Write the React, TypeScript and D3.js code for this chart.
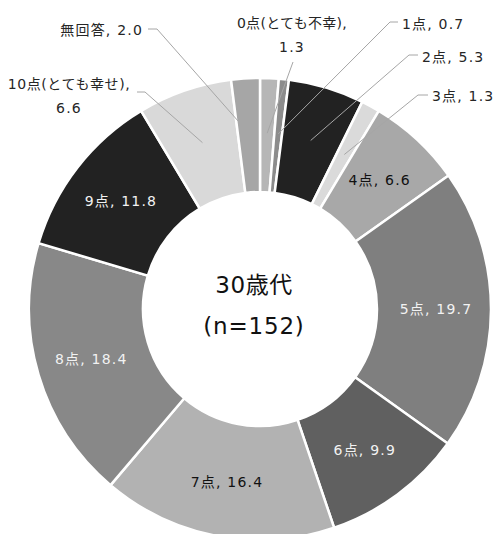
import React from "react";
import * as d3 from "d3";

const categories = ["0点(とても不幸)", "1点", "2点", "3点", "4点", "5点", "6点", "7点", "8点", "9点", "10点(とても幸せ)", "無回答"];
const values = [1.3, 0.7, 5.3, 1.3, 6.6, 19.7, 9.9, 16.4, 18.4, 11.8, 6.6, 2.0];
const sliceColors = ["#b6b6b6", "#8c8c8c", "#222222", "#dadada", "#a8a8a8", "#7f7f7f", "#606060", "#b2b2b2", "#888888", "#222222", "#d9d9d9", "#a6a6a6"];
const centerTitle = "30歳代";
const centerSub = "(n=152)";

// label layout (Excel-style manual placement)
type OutLabel = { lines: string[]; x: number; y: number[]; anchor: string; ls: number[]; leader: [number, number][] };
const outsideLabels: Record<number, OutLabel> = {
  0: { lines: ["0点(とても不幸),", "1.3"], x: 292, y: [28, 52], anchor: "middle", ls: [0.3, 1.2], leader: [[293, 62]] },
  1: { lines: ["1点, 0.7"], x: 402, y: [29], anchor: "start", ls: [1.2], leader: [[390, 22], [398, 22]] },
  2: { lines: ["2点, 5.3"], x: 422, y: [62], anchor: "start", ls: [1.2], leader: [[409, 55], [418, 55]] },
  3: { lines: ["3点, 1.3"], x: 432, y: [101], anchor: "start", ls: [1.2], leader: [[418, 95], [428, 95]] },
  10: { lines: ["10点(とても幸せ),", "6.6"], x: 69, y: [89, 113], anchor: "middle", ls: [0.6, 1.2], leader: [[145, 92], [137, 92]] },
  11: { lines: ["無回答, 2.0"], x: 143, y: [35], anchor: "end", ls: [1.2], leader: [[157, 29], [148, 29]] },
};
const insideTextColor = ["", "", "", "", "#111", "#f2f2f2", "#f2f2f2", "#111", "#f2f2f2", "#f2f2f2", "", ""];

export default function App() {
  const W = 499, H = 534;
  const cx = 260, cy = 309, rOut = 231, rIn = 117;
  const font = "'DejaVu Sans', 'Noto Sans CJK JP', sans-serif";
  const pie = d3.pie<number>().value((d) => d).sort(null);
  const arcs = pie(values);
  const arc = d3.arc<d3.PieArcDatum<number>>().innerRadius(rIn).outerRadius(rOut);
  const mid = d3.arc<d3.PieArcDatum<number>>().innerRadius(rIn).outerRadius(rOut + 4);

  return (
    <svg width={W} height={H} style={{ position: "absolute", left: 0, top: 0, background: "#fff" }} fontFamily={font}>
      <g transform={`translate(${cx},${cy})`}>
        {arcs.map((a, i) => (
          <path key={i} d={arc(a) || ""} fill={sliceColors[i]} stroke="#fff" strokeWidth={2.5} strokeLinejoin="miter" />
        ))}
      </g>
      {arcs.map((a, i) => {
        const [mx, my] = mid.centroid(a);
        const px = cx + mx, py = cy + my;
        const ol = outsideLabels[i];
        if (ol) {
          const pts: [number, number][] = [[px, py], ...ol.leader];
          return (
            <g key={"l" + i}>
              <path d={d3.line()(pts) || ""} fill="none" stroke="#a6a6a6" strokeWidth={1} />
              {ol.lines.map((t, j) => (
                <text key={j} x={ol.x} y={ol.y[j]} textAnchor={ol.anchor} fontSize={14} letterSpacing={ol.ls[j]} fill="#262626">{t}</text>
              ))}
            </g>
          );
        }
        return (
          <text key={"l" + i} x={px} y={py} dy="0.35em" textAnchor="middle" fontSize={14} letterSpacing={1.2} fill={insideTextColor[i]}>
            {`${categories[i]}, ${values[i].toFixed(1)}`}
          </text>
        );
      })}
      <text x={254} y={293} textAnchor="middle" fontSize={23} letterSpacing={0.5} fill="#111">{centerTitle}</text>
      <text x={254} y={334} textAnchor="middle" fontSize={23} letterSpacing={0.8} fill="#111">{centerSub}</text>
    </svg>
  );
}
